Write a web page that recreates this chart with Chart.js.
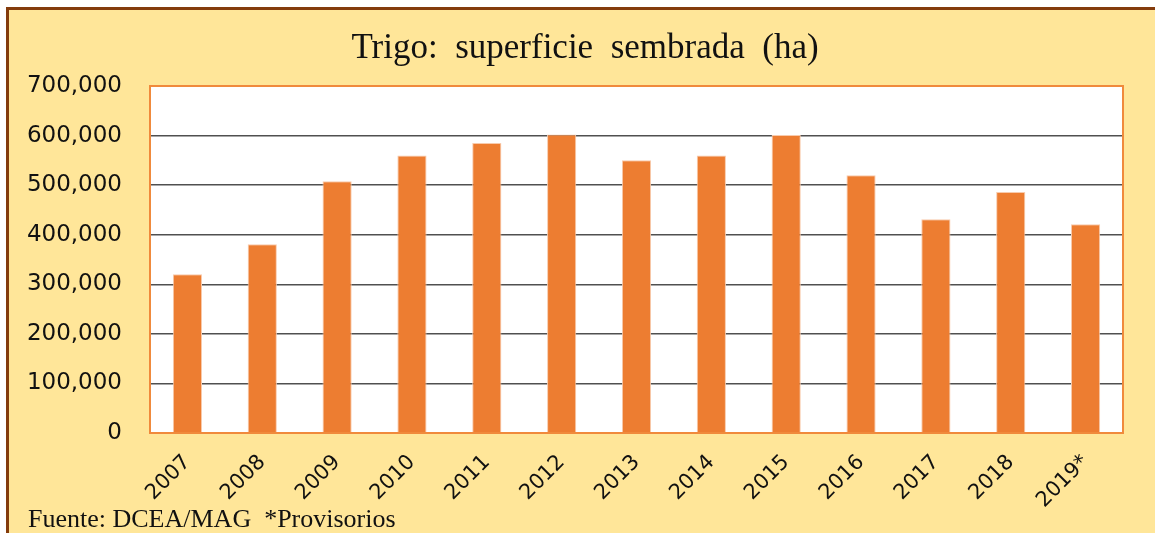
<!DOCTYPE html>
<html>
<head>
<meta charset="utf-8">
<script src="https://cdn.jsdelivr.net/npm/chart.js@4.4.1/dist/chart.umd.min.js"></script>
<style>
  html, body { margin: 0; padding: 0; background: #ffffff; overflow: hidden; }
  #frame {
    position: absolute; left: 6px; top: 7px; width: 1160px; height: 540px;
    border-left: 3px solid #843C0C; border-top: 3px solid #843C0C;
    background: #FFE699;
  }
  #wrap { position: absolute; left: 9px; top: 10px; width: 1146px; height: 523px; }
</style>
</head>
<body>
<div id="frame"></div>
<div id="wrap"><canvas id="chart" width="1146" height="523"></canvas></div>
<script>
// Trigo: superficie sembrada (ha)
const years = ['2007', '2008', '2009', '2010', '2011', '2012', '2013', '2014', '2015', '2016', '2017', '2018', '2019*'];
const hectares = [320000, 381000, 508000, 560000, 585000, 602000, 550000, 560000, 601000, 520000, 431000, 486000, 421000];
const yTicks = [0, 100000, 200000, 300000, 400000, 500000, 600000, 700000];

const titleText = 'Trigo:  superficie  sembrada  (ha)';
const footText = 'Fuente: DCEA/MAG  *Provisorios';

// white plot area + orange frame, title and footer text
const decor = {
  id: 'decor',
  beforeDraw(chart) {
    const { ctx, chartArea: a } = chart;
    ctx.save();
    ctx.fillStyle = '#ffffff';
    ctx.fillRect(a.left, a.top, a.right - a.left, a.bottom - a.top);
    ctx.restore();
  },
  afterDraw(chart) {
    const { ctx, chartArea: a } = chart;
    ctx.save();
    ctx.strokeStyle = '#F08A3C';
    ctx.lineWidth = 2;
    ctx.strokeRect(a.left, a.top, a.right - a.left, a.bottom - a.top);

    ctx.fillStyle = '#111111';
    ctx.font = '35px "Liberation Serif", serif';
    ctx.textAlign = 'center';
    ctx.textBaseline = 'middle';
    ctx.fillText(titleText, 576, 39);

    ctx.font = '26px "Liberation Serif", serif';
    ctx.textAlign = 'left';
    ctx.textBaseline = 'alphabetic';
    ctx.fillText(footText, 19, 517);
    ctx.restore();
  }
};

new Chart(document.getElementById('chart'), {
  type: 'bar',
  data: {
    labels: years,
    datasets: [{
      data: hectares,
      backgroundColor: '#ED7D31',
      borderColor: '#F8CBAD',
      borderWidth: 1,
      barPercentage: 0.39,
      categoryPercentage: 1
    }]
  },
  options: {
    responsive: false,
    animation: false,
    layout: { padding: { top: 76, right: 32, left: 0, bottom: 0 } },
    plugins: { legend: { display: false }, tooltip: { enabled: false } },
    scales: {
      x: {
        grid: { display: false, drawTicks: false },
        border: { display: false },
        ticks: {
          color: '#111111',
          font: { family: '"DejaVu Sans", sans-serif', size: 21 },
          minRotation: 45, maxRotation: 45,
          padding: 17
        },
        afterFit(scale) { scale.height = 100; }
      },
      y: {
        min: 0, max: 700000,
        afterBuildTicks(scale) { scale.ticks = yTicks.map(v => ({ value: v })); },
        grid: { color: '#505050', lineWidth: 1.5, drawTicks: false },
        border: { display: false },
        ticks: {
          color: '#111111',
          font: { family: '"DejaVu Sans", sans-serif', size: 23 },
          padding: 28,
          callback: v => v.toLocaleString('en-US')
        },
        afterFit(scale) { scale.width = 141; }
      }
    }
  },
  plugins: [decor]
});
</script>
</body>
</html>
